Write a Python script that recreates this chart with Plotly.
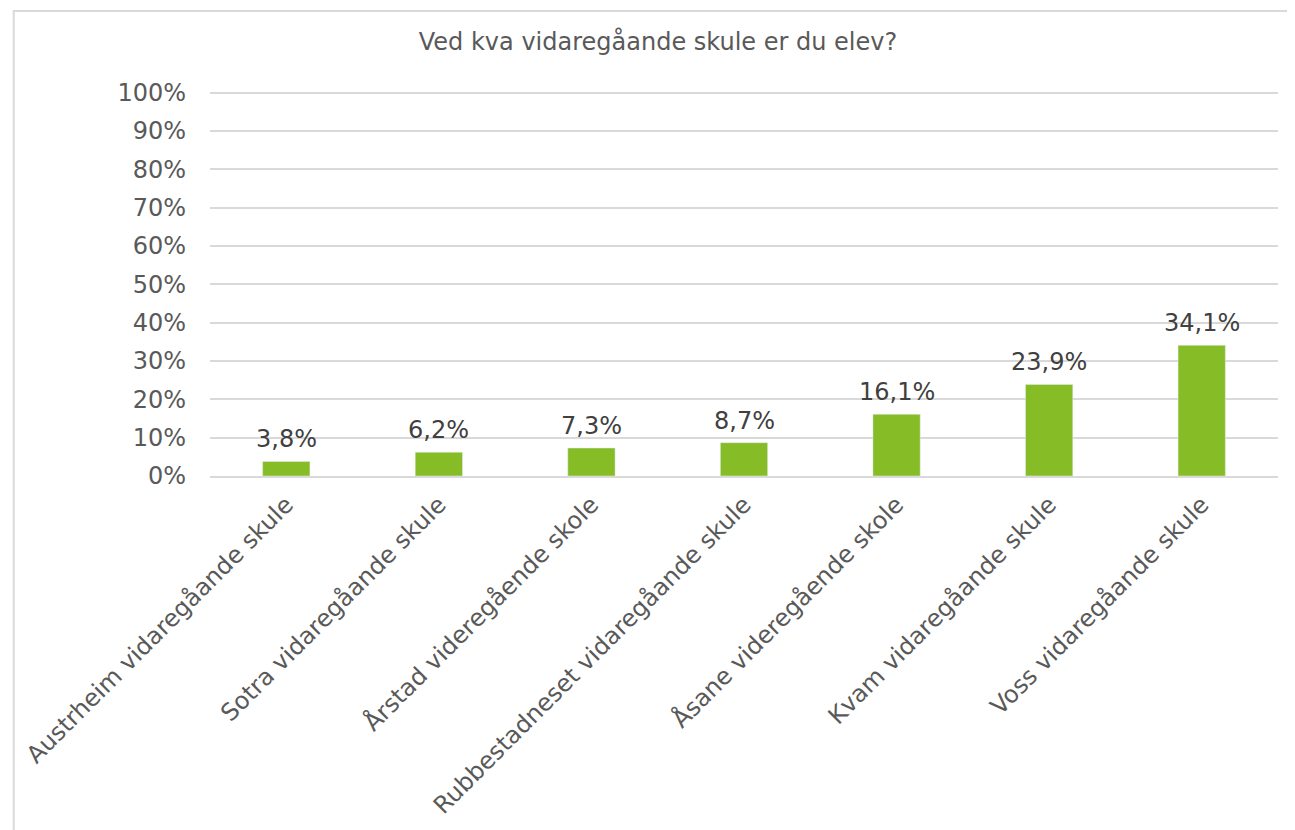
import plotly.graph_objects as go

categories = [
    "Austrheim vidaregåande skule",
    "Sotra vidaregåande skule",
    "Årstad videregående skole",
    "Rubbestadneset vidaregåande skule",
    "Åsane videregående skole",
    "Kvam vidaregåande skule",
    "Voss vidaregåande skule",
]
values = [0.038, 0.062, 0.073, 0.087, 0.161, 0.239, 0.341]
title_text = "Ved kva vidaregåande skule er du elev?"

# page body has an 8px margin, so figure coords = screen coords - 8
OFF = 8
W, H = 1295, 830
Y_TOP = 1.02
ml, mr = 206 - OFF, 1295 - (1278 - OFF)
mb = H - (476 - OFF)
mt = 93 - OFF - 8  # extra 8px so that y=1 sits at the reference position
pw, ph = W - ml - mr, H - mt - mb

def px_x(p):
    return (p - OFF - ml) / pw

def px_y(p):
    return (H - mb - (p - OFF)) / ph

fig = go.Figure(
    go.Bar(
        x=categories,
        y=values,
        marker_color="#86BC25",
        width=0.31,
        cliponaxis=False,
    )
)

for c, v in zip(categories, values):
    fig.add_annotation(
        x=c,
        y=v,
        xref="x",
        yref="y",
        text=f"{v * 100:.1f}%".replace(".", ","),
        showarrow=False,
        yanchor="bottom",
        yshift=6,
        font=dict(family="DejaVu Sans", size=24, color="#404040"),
    )

fig.update_layout(
    width=W,
    height=H,
    margin=dict(l=ml, r=mr, t=mt, b=mb),
    paper_bgcolor="white",
    plot_bgcolor="white",
    separators=", ",
    showlegend=False,
    title=dict(
        text=title_text,
        x=(658 - OFF) / W,
        xref="container",
        xanchor="center",
        y=1 - (42 - OFF) / H,
        yanchor="middle",
        font=dict(family="DejaVu Sans", size=24, color="#595959"),
    ),
    font=dict(family="DejaVu Sans", color="#595959"),
    shapes=[
        dict(
            type="rect",
            xref="paper",
            yref="paper",
            x0=px_x(9),
            x1=px_x(1320),
            y0=px_y(850),
            y1=px_y(11),
            line=dict(color="#D9D9D9", width=2),
            fillcolor="rgba(0,0,0,0)",
            layer="below",
        )
    ],
)

fig.update_yaxes(
    range=[0, Y_TOP],
    tickvals=[i / 10 for i in range(11)],
    tickformat=".0%",
    showgrid=True,
    gridcolor="#D9D9D9",
    gridwidth=2,
    zeroline=False,
    showline=False,
    ticks="",
    ticklabelstandoff=23,
    tickfont=dict(family="DejaVu Sans", size=24, color="#595959"),
)
fig.update_xaxes(
    tickangle=-45,
    showgrid=False,
    showline=True,
    linecolor="#D9D9D9",
    linewidth=2,
    ticks="",
    ticklabelstandoff=3,
    tickfont=dict(family="DejaVu Sans", size=24, color="#595959"),
)

fig.write_html("out.html")
